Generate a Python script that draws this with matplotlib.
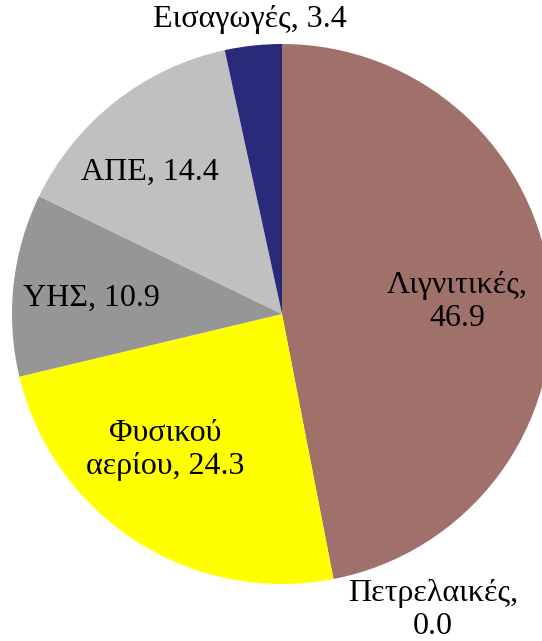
import matplotlib
matplotlib.use('Agg')
import matplotlib.pyplot as plt

plt.rcParams['font.family'] = ['Liberation Serif', 'DejaVu Serif']

# Electricity production share by source (%)
sources = ['Λιγνιτικές', 'Πετρελαικές', 'Φυσικού\nαερίου', 'ΥΗΣ', 'ΑΠΕ', 'Εισαγωγές']
shares = [46.9, 0.0, 24.3, 10.9, 14.4, 3.4]
colors = ['#A0716B', '#000000', '#FFFF00', '#969696', '#C0C0C0', '#2A2A7A']

# label anchor points in pixel coordinates (y measured from top)
label_pos = [(457, 302), (433, 610), (165, 450), (91, 298), (150, 172), (250, 20)]
label_sep = [',\n', ',\n', ', ', ', ', ', ', ', ']

W, H = 542, 641
fig = plt.figure(figsize=(W / 100, H / 100), dpi=100)
ax = fig.add_axes([0, 0, 1, 1])

cx, cy, r = 282, H - 314, 270
ax.pie(shares, colors=colors, startangle=90, counterclock=False,
       center=(cx, cy), radius=r, frame=True,
       wedgeprops=dict(linewidth=0))
ax.set_xlim(0, W)
ax.set_ylim(0, H)
ax.set_aspect('equal')
ax.axis('off')

for name, val, sep, (x, y) in zip(sources, shares, label_sep, label_pos):
    ax.text(x, H - y, f'{name}{sep}{val:.1f}', ha='center', va='center',
            fontsize=23, color='black', linespacing=1.2,
            multialignment='center')

fig.savefig('out.png', dpi=100)
plt.close()
